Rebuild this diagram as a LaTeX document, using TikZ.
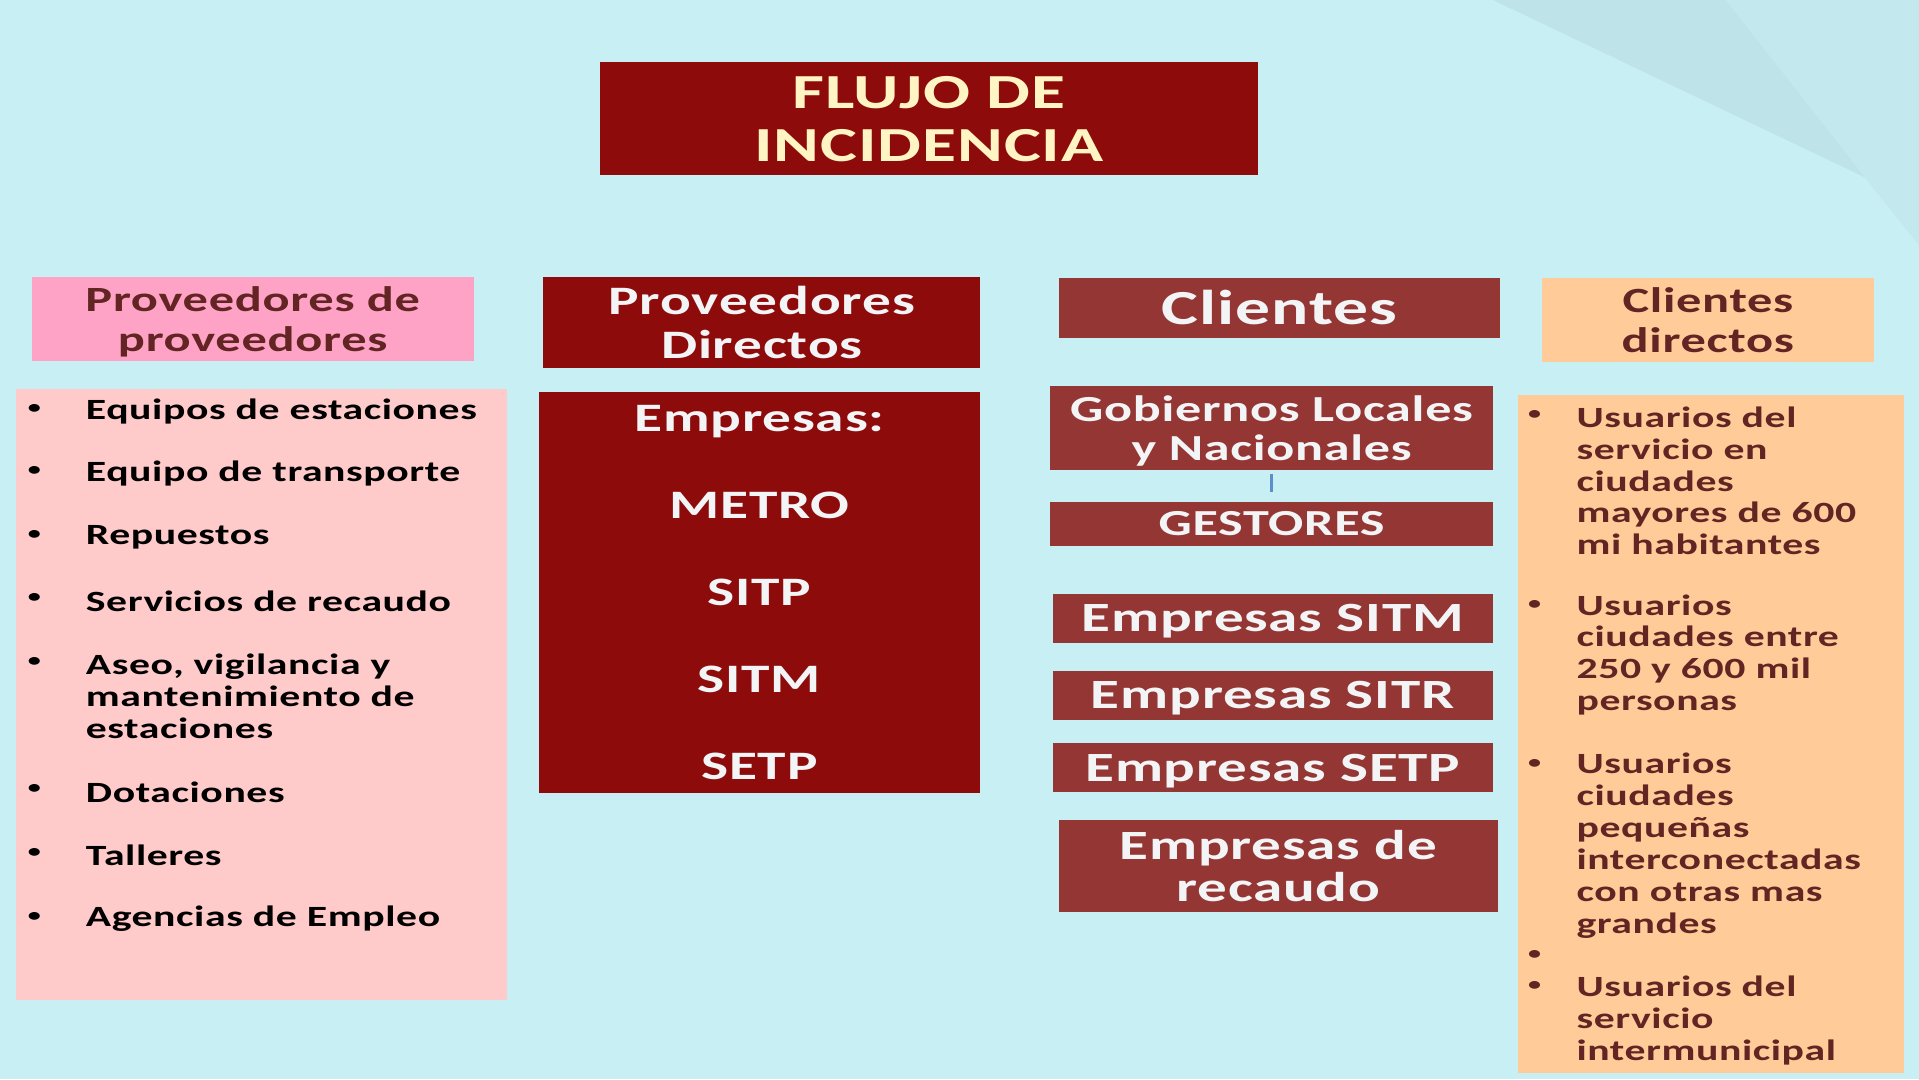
\documentclass[tikz,border=0pt]{standalone}
\usepackage{fontspec}
\setmainfont{Carlito}[FakeStretch=1.42,LetterSpace=2]
\definecolor{bgcyan}{HTML}{C8EFF4}
\definecolor{curlA}{HTML}{BEE3E8}
\definecolor{curlB}{HTML}{C3E8ED}
\definecolor{darkred}{HTML}{8E0B0B}
\definecolor{brick}{HTML}{943634}
\definecolor{pinkhdr}{HTML}{FFA3C6}
\definecolor{pinklist}{HTML}{FFCACA}
\definecolor{peach}{HTML}{FFCC99}
\definecolor{maroon}{HTML}{632523}
\definecolor{creamtext}{HTML}{FFF5C4}
\definecolor{paletext}{HTML}{F2F4F6}
\definecolor{linkblue}{HTML}{5B8FC9}
\newcommand\setfs[2]{\fontsize{#1}{#2}\selectfont\bfseries}
\begin{document}
\begin{tikzpicture}[x=1pt,y=-1pt,
    box/.style={inner sep=0pt,outer sep=0pt,align=center,text depth=0pt},
    redbox/.style={box,fill=darkred,text=paletext},
    brickbox/.style={box,fill=brick,text=paletext},
    item/.style={anchor=west,align=left,inner sep=0pt,yshift=-2pt,font=\setfs{24}{26}},
    dot/.style={inner sep=0pt,font=\setfs{15}{15}},
    conn/.style={draw=linkblue,line width=2pt,shorten <=3pt,shorten >=8pt}]
  \fill[bgcyan] (0,0) rectangle (1568,882);
  \useasboundingbox (0,0) rectangle (1568,882);
  % page curl, top right
  \fill[curlA] (1220,0)--(1524,145)--(1568,200)--(1568,0)--cycle;
  \fill[curlB] (1410,0)--(1524,145)--(1568,200)--(1568,0)--cycle;

  \node[redbox,text=creamtext,minimum width=538pt,minimum height=92pt,font=\setfs{40}{43}]
    (title) at (759,97) {FLUJO DE\\INCIDENCIA};

  % proveedores de proveedores
  \node[box,fill=pinkhdr,text=maroon,minimum width=361pt,minimum height=69pt,font=\setfs{29}{33}]
    (pphdr) at (206.5,260.5) {Proveedores de\\proveedores};
  \node[box,fill=pinklist,minimum width=401pt,minimum height=499pt] (pplist) at (213.5,567.5) {};
  \foreach \y in {334,385,437,489,541,645,697,749}
    \node[dot] (ppdot\y) at (28,\y) {\textbullet};
  \foreach \y/\t [count=\i] in {334/Equipos de estaciones,385/Equipo de transporte,
      437/Repuestos,489/Servicios de recaudo,567/{Aseo, vigilancia y\\mantenimiento de\\estaciones},
      645/Dotaciones,697/Talleres,749/Agencias de Empleo}
    \node[item] (pp\i) at (70,\y) {\t};

  % proveedores directos
  \node[redbox,minimum width=357pt,minimum height=75pt,font=\setfs{33}{36}]
    (pdhdr) at (622.5,263.5) {Proveedores\\Directos};
  \node[redbox,minimum width=361pt,minimum height=328pt,font=\setfs{33}{71.2}]
    (pdlist) at (620.5,484) {Empresas:\\METRO\\SITP\\SITM\\SETP};

  % clientes
  \node[brickbox,minimum width=361pt,minimum height=49pt,font=\setfs{40}{44}]
    (clhdr) at (1045.5,251.5) {Clientes};
  \node[brickbox,minimum width=362pt,minimum height=69pt,font=\setfs{30}{32}]
    (gob) at (1039,349.5) {Gobiernos Locales\\y Nacionales};
  \node[brickbox,minimum width=362pt,minimum height=36pt,font=\setfs{30}{32}]
    (gest) at (1039,428) {GESTORES};
  \node[brickbox,minimum width=360pt,minimum height=40pt,font=\setfs{34}{35}]
    (sitm) at (1040,505) {Empresas SITM};
  \node[brickbox,minimum width=360pt,minimum height=40pt,font=\setfs{34}{35}]
    (sitr) at (1040,568) {Empresas SITR};
  \node[brickbox,minimum width=360pt,minimum height=40pt,font=\setfs{34}{35}]
    (setp) at (1040,627) {Empresas SETP};
  \node[brickbox,minimum width=359pt,minimum height=75pt,font=\setfs{34}{35}]
    (rec) at (1044.5,707.5) {Empresas de\\recaudo};
  \draw[conn] (gob) -- (gest);

  % clientes directos
  \node[box,fill=peach,text=maroon,minimum width=271pt,minimum height=69pt,font=\setfs{29}{32}]
    (cdhdr) at (1395.5,261.5) {Clientes\\directos};
  \node[box,fill=peach,minimum width=316pt,minimum height=554pt] (cdlist) at (1398,600) {};
  \foreach \y in {339,494,624,780,806}
    \node[dot,text=maroon] (cddot\y) at (1254,\y) {\textbullet};
  \foreach \y/\t [count=\i] in {391/{Usuarios del\\servicio en\\ciudades\\mayores de 600\\mi habitantes},
      533/{Usuarios\\ciudades entre\\250 y 600 mil\\personas},
      689/{Usuarios\\ciudades\\pequeñas\\interconectadas\\con otras mas\\grandes},
      832/{Usuarios del\\servicio\\intermunicipal}}
    \node[item,text=maroon] (cd\i) at (1288,\y) {\t};
\end{tikzpicture}
\end{document}
